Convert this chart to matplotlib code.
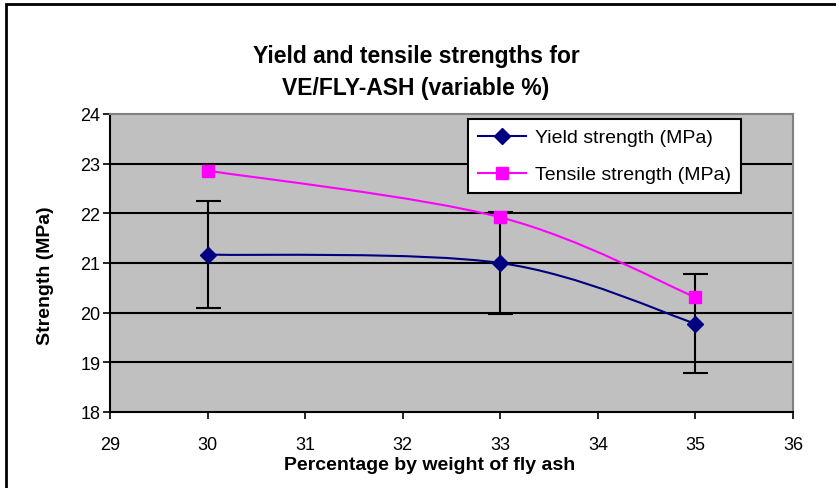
import numpy as np
import matplotlib.pyplot as plt
from matplotlib.path import Path
from matplotlib.patches import PathPatch, Rectangle

plt.rcParams['font.family'] = ['Liberation Sans', 'DejaVu Sans']

fly_ash = [30, 33, 35]
yield_strength = [21.17, 21.0, 19.78]
yield_err = [1.07, 1.03, 1.0]
tensile_strength = [22.86, 21.92, 20.31]


def smoothPath(xs, ys):
    # excel style smoothed line (bezier through every point)
    pts = list(zip(xs, ys))
    pts = [pts[0]] + pts + [pts[-1]]
    verts = [pts[1]]
    codes = [Path.MOVETO]
    for i in range(1, len(pts) - 2):
        p0, p1, p2, p3 = pts[i - 1], pts[i], pts[i + 1], pts[i + 2]
        c1 = (p1[0] + (p2[0] - p0[0]) / 6, p1[1] + (p2[1] - p0[1]) / 6)
        c2 = (p2[0] - (p3[0] - p1[0]) / 6, p2[1] - (p3[1] - p1[1]) / 6)
        verts += [c1, c2, p2]
        codes += [Path.CURVE4] * 3
    return Path(verts, codes)


fig = plt.figure(figsize=(8.37, 4.89), dpi=100)
ax = fig.add_axes([110 / 837, 1 - 413 / 489, 683 / 837, 298 / 489])
ax.set_facecolor('#C0C0C0')

# outer chart border
fig.patches.append(Rectangle((6 / 837, -0.05), 1.2, 1 - 5 / 489 + 0.05, transform=fig.transFigure,
                             fill=False, edgecolor='black', linewidth=2, zorder=0))

for v in range(19, 24):
    ax.axhline(v, color='black', linewidth=1.5, zorder=1)

ax.add_patch(PathPatch(smoothPath(fly_ash, yield_strength), fill=False, edgecolor='#000080', linewidth=1.5, zorder=3))
ax.add_patch(PathPatch(smoothPath(fly_ash, tensile_strength), fill=False, edgecolor='#FF00FF', linewidth=1.5, zorder=3))

ax.errorbar(fly_ash, yield_strength, yerr=yield_err, fmt='none', ecolor='black', elinewidth=1.5,
            capsize=9, capthick=1.5, zorder=2)
ax.plot(fly_ash, yield_strength, color='#000080', marker='D', markersize=8.5,
        linestyle='none', zorder=4)
ax.plot(fly_ash, tensile_strength, color='#FF00FF', marker='s', markersize=8.5,
        linestyle='none', zorder=4)

# legend proxies with line
h1, = ax.plot([], [], color='#000080', marker='D', markersize=8.5, linewidth=1.5)
h2, = ax.plot([], [], color='#FF00FF', marker='s', markersize=8.5, linewidth=1.5)
leg = ax.legend([h1, h2], ['Yield strength (MPa)', 'Tensile strength (MPa)'], loc='upper left',
                bbox_to_anchor=(0.524, 0.983), fontsize=14, frameon=True, fancybox=False,
                edgecolor='black', framealpha=1, borderpad=0.5, handlelength=2.5,
                handletextpad=0.45, labelspacing=1.0, borderaxespad=0)
leg.get_frame().set_linewidth(1.5)
leg.set_zorder(10)

ax.set_xlim(29, 36)
ax.set_ylim(18, 24)
ax.set_xticks(range(29, 37))
ax.set_yticks(range(18, 25))
ax.tick_params(axis='both', direction='out', length=5, width=1.2, labelsize=13)
ax.tick_params(axis='x', pad=12)
ax.tick_params(axis='y', pad=2)
for s in ['left', 'bottom']:
    ax.spines[s].set_color('black')
    ax.spines[s].set_linewidth(1.5)
for s in ['top', 'right']:
    ax.spines[s].set_color('#808080')
    ax.spines[s].set_linewidth(1.5)

ax.set_xlabel('Percentage by weight of fly ash', fontsize=14, fontweight='bold')
ax.xaxis.set_label_coords((430 - 110) / 683, -(466 - 413) / 298)
ax.xaxis.label.set_va('center')
ax.set_ylabel('Strength (MPa)', fontsize=14, fontweight='bold')
ax.yaxis.set_label_coords(-(110 - 45) / 683, (413 - 276) / 298)
ax.yaxis.label.set_va('center')
fig.text(0.497, 1 - 57 / 489, 'Yield and tensile strengths for', ha='center', va='center',
         fontsize=16.5, fontweight='bold')
fig.text(0.497, 1 - 88 / 489, 'VE/FLY-ASH (variable %)', ha='center', va='center',
         fontsize=16.5, fontweight='bold')

fig.savefig('out.png', dpi=100)
